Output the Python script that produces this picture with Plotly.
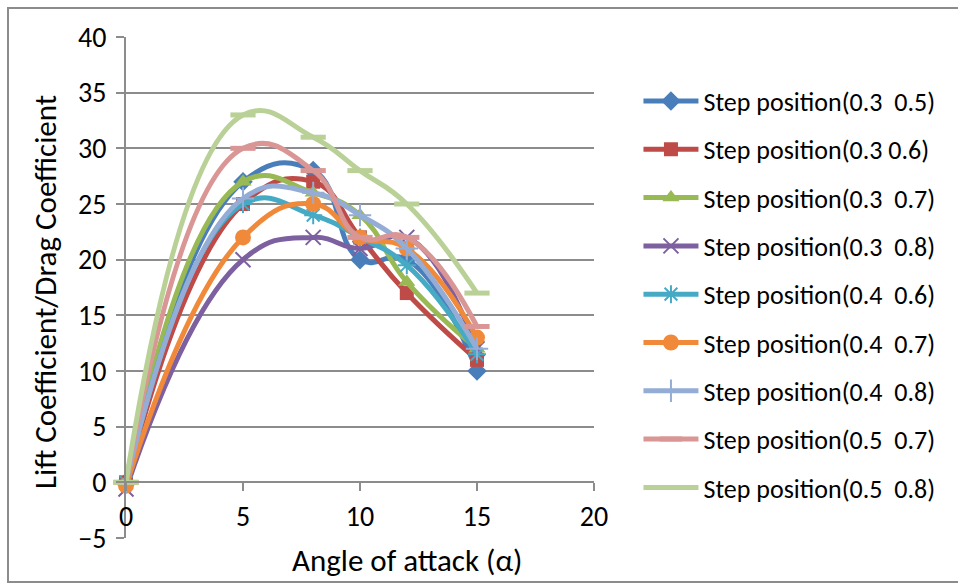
import plotly.graph_objects as go

# Angle of attack (degrees) at which each configuration was measured
angles = [0, 5, 8, 10, 12, 15]

# Lift/drag ratio for each step position
s_03_05 = [0, 27, 28, 20, 20, 10]
s_03_06 = [0, 25, 27, 22, 17, 11]
s_03_07 = [0, 27, 26, 24, 18, 12]
s_03_08 = [-0.6, 20, 22, 21, 22, 12]
s_04_06 = [0, 25, 24, 22, 19.5, 11.5]
s_04_07 = [-0.3, 22, 25, 22, 21, 13]
s_04_08 = [0, 25.5, 26, 24, 21, 12]
s_05_07 = [0, 30, 28, 22, 22, 14]
s_05_08 = [0, 33, 31, 28, 25, 17]

series_names = [
    "Step position(0.3\u00a0\u00a00.5)",
    "Step position(0.3 0.6)",
    "Step position(0.3\u00a0\u00a00.7)",
    "Step position(0.3\u00a0\u00a00.8)",
    "Step position(0.4\u00a0\u00a00.6)",
    "Step position(0.4\u00a0\u00a00.7)",
    "Step position(0.4\u00a0\u00a00.8)",
    "Step position(0.5\u00a0\u00a00.7)",
    "Step position(0.5\u00a0\u00a00.8)",
]
series_values = [s_03_05, s_03_06, s_03_07, s_03_08, s_04_06,
                 s_04_07, s_04_08, s_05_07, s_05_08]

colors = ["#4A7EBB", "#BE4B48", "#98B954", "#7D60A0", "#46AAC5",
          "#F08A3A", "#93ADD6", "#D99694", "#B9D196"]
# (symbol, size, outline width)
markers = [
    ("diamond", 15, 0),
    ("square", 14, 0),
    ("triangle-up", 15, 0),
    ("x-thin", 15, 2),
    ("asterisk", 15, 2),
    ("circle", 16, 0),
    ("cross-thin", 16, 2),
    ("line-ew", 18, 5),
    ("line-ew", 18, 5),
]

FONT = "Carlito, Calibri, Lato, sans-serif"
TICK_SIZE = 28
TITLE_SIZE = 31
LEGEND_SIZE = 26

fig = go.Figure()
for i, (name, vals) in enumerate(zip(series_names, series_values)):
    sym, size, lw = markers[i]
    fig.add_trace(go.Scatter(
        x=angles, y=vals, name=name, mode="lines+markers",
        line=dict(color=colors[i], width=5, shape="spline", smoothing=1.3),
        marker=dict(symbol=sym, size=size, color=colors[i],
                    line=dict(color=colors[i], width=lw)),
        cliponaxis=False, legendgroup=f"g{i}",
    ))

L, R, T, B = 126, 364, 37, 46
PW, PH = 958 - L - R, 584 - T - B


def px_x(p):
    return (p - L) / PW


def px_y(p):
    return (584 - B - p) / PH


ymin, ymax = -5, 40

fig.update_layout(
    width=958, height=584,
    margin=dict(l=L, r=R, t=T, b=B, pad=0),
    paper_bgcolor="white", plot_bgcolor="white",
    font=dict(family=FONT, size=TICK_SIZE, color="#000000"),
    showlegend=True,
    legend=dict(x=1.095, y=0.919, xanchor="left", yanchor="top",
                font=dict(size=LEGEND_SIZE, family=FONT), tracegroupgap=11.5,
                bgcolor="rgba(0,0,0,0)", itemwidth=55),
    xaxis=dict(range=[0, 20], tickvals=[0, 5, 10, 15, 20],
               showgrid=False, zeroline=False,
               showline=True, linecolor="#8C8C8C", linewidth=2,
               ticks="outside", ticklen=8, tickwidth=2, tickcolor="#8C8C8C",
               anchor="free", position=(0 - ymin) / (ymax - ymin),
               ticklabelstandoff=1,
               tickfont=dict(size=TICK_SIZE, family=FONT)),
    yaxis=dict(range=[ymin, ymax], tickvals=list(range(-5, 41, 5)),
               showgrid=True, gridcolor="#8C8C8C", gridwidth=2,
               zeroline=False, showline=True, linecolor="#8C8C8C", linewidth=2,
               ticks="outside", ticklen=8, tickwidth=2, tickcolor="#8C8C8C",
               ticklabelstandoff=4,
               tickfont=dict(size=TICK_SIZE, family=FONT)),
)

# Axis titles
fig.add_annotation(text="Angle of attack (α)", xref="paper", yref="paper",
                   x=px_x(407), y=px_y(560), xanchor="center",
                   yanchor="middle", showarrow=False,
                   font=dict(size=TITLE_SIZE, family=FONT))
fig.add_annotation(text="Lift Coefficient/Drag Coefficient", xref="paper",
                   yref="paper", x=px_x(45), y=px_y(292), xanchor="center",
                   yanchor="middle", textangle=-90, showarrow=False,
                   font=dict(size=TITLE_SIZE, family=FONT))

# Chart border
fig.add_shape(type="rect", xref="paper", yref="paper",
              x0=px_x(8), x1=px_x(962), y0=px_y(582), y1=px_y(8),
              line=dict(color="#8C8C8C", width=2), layer="below")

fig.write_html("out.html")
